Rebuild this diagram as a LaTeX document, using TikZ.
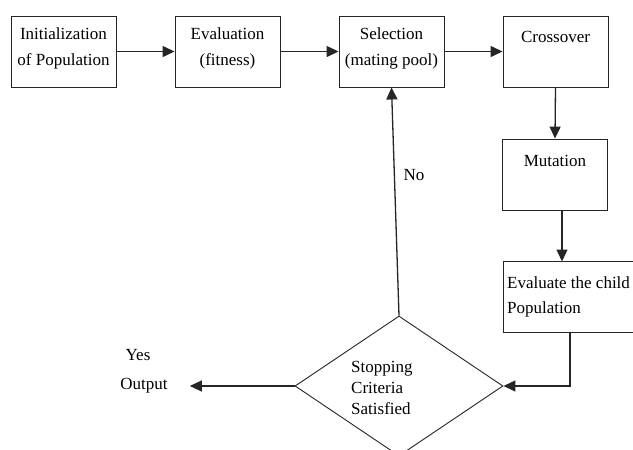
\documentclass[tikz,border=0pt]{standalone}
\usepackage{fontspec}
\setmainfont{Liberation Serif}
\usetikzlibrary{shapes.geometric,arrows.meta}
\begin{document}
\begin{tikzpicture}[x=1pt,y=-1pt,
  box/.style={draw=black!85,line width=0.9pt,rectangle,minimum width=105pt,minimum height=71pt,inner sep=0pt},
  lbl/.style={font=\fontsize{17}{26}\selectfont,align=center,inner sep=0pt,anchor=north},
  txt/.style={font=\fontsize{17}{20}\selectfont,inner sep=0pt},
  arr/.style={draw=black!85,line width=1.3pt,-{Triangle[length=12pt,width=11pt]}}]
\useasboundingbox (0,0) rectangle (633,450);
\clip (0,0) rectangle (633,450);
\fill[white] (0,0) rectangle (633,450);
% boxes
\node[box] (init) at (63.5,51.5) {};
\node[box] (eval) at (227.5,51.5) {};
\node[box] (sel) at (391.5,51.5) {};
\node[box] (cross) at (555.5,51.5) {};
\node[box] (mut) at (555,174.5) {};
\node[box,minimum width=140pt] (child) at (573,297) {};
\node[draw=black!85,line width=0.9pt,diamond,aspect=1.486,minimum width=208pt,minimum height=140pt,inner sep=0pt] (stop) at (399,386) {};
% labels inside boxes
\node[lbl] at ([yshift=-12pt]init.north) {Initialization\\of Population};
\node[lbl] at ([yshift=-12pt]eval.north) {Evaluation\\(fitness)};
\node[lbl] at ([yshift=-12pt]sel.north) {Selection\\(mating pool)};
\node[lbl] at ([yshift=-15pt]cross.north) {Crossover};
\node[lbl] at ([yshift=-16pt]mut.north) {Mutation};
\node[font=\fontsize{17}{25}\selectfont,align=left,inner sep=0pt,anchor=north west] at (507,277) {Evaluate the child\\Population};
\node[font=\fontsize{17}{21}\selectfont,align=left,inner sep=0pt,anchor=west] at (351,388) {Stopping\\Criteria\\Satisfied};
% free texts
\node[txt] (out) at (144,386) {Output};
\node[txt] at (138,355) {Yes};
\node[txt] at (414,175) {No};
% connectors
\draw[arr] (init.east) -- (eval.west);
\draw[arr] (eval.east) -- (sel.west);
\draw[arr] (sel.east) -- (cross.west);
\draw[arr] (cross.south) -- (mut.north);
\coordinate (mb) at (562,210);
\coordinate (ct) at (562,261.5);
\draw[arr] (mb) -- (ct);
\coordinate (cb) at (570,332.5);
\draw[arr] (cb) |- (stop.east);
\draw[arr] (stop.north) -- (sel.south);
\draw[arr,shorten >=22pt] (stop.west) -- (out.east);
\end{tikzpicture}
\end{document}
